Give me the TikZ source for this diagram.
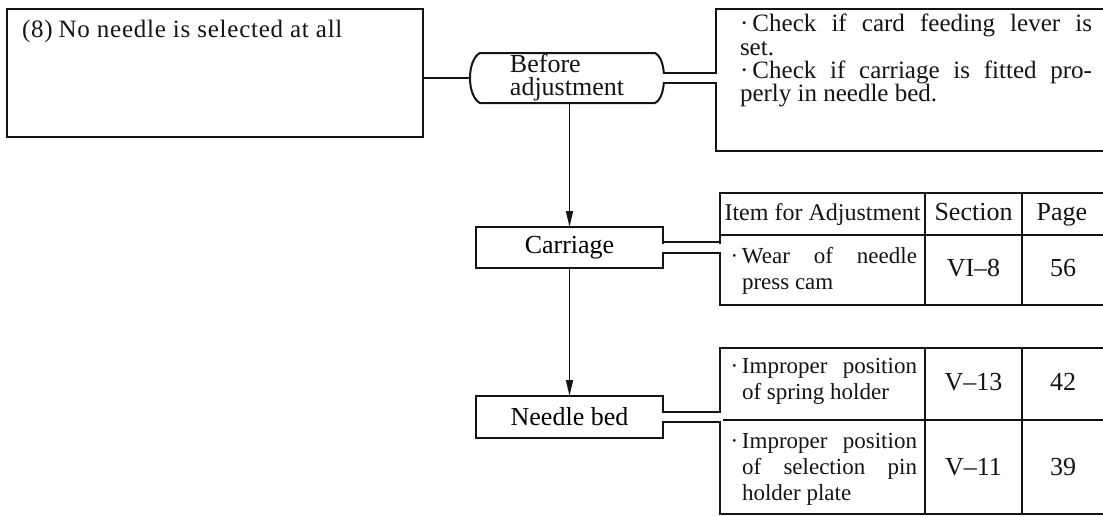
\documentclass[tikz,border=0pt]{standalone}
\usepackage{fontspec}
\setmainfont{Liberation Serif}
\usepackage{xcolor}
\usetikzlibrary{arrows.meta,calc}
\definecolor{mnink}{HTML}{141414}
\tikzset{
  panel/.style={draw=mnink,line width=1pt,inner sep=0pt,outer sep=0pt},
  lab/.style={inner sep=0pt,outer sep=0pt,text=mnink},
  item/.style={lab,text width=87.5pt,align=justify,font=\fontsize{11.5}{13}\selectfont},
  num/.style={lab,font=\fontsize{13}{15}\selectfont,text height=9pt,text depth=2.5pt},
  ar/.style={-{Triangle[length=8pt,width=3.5pt]},draw=mnink,line width=0.8pt},
  lnk/.style={draw=mnink,line width=1pt},
}

\begin{document}
\begin{tikzpicture}[x=0.5pt,y=-0.5pt]
\useasboundingbox (0,0) rectangle (1103,516);
\clip (0,0) rectangle (1103,516);
% trouble box
\node[panel,minimum width=208pt,minimum height=64pt] (prob) at (215,73) {};
\node[lab,anchor=base west,font=\fontsize{12.5}{15}\selectfont\addfontfeatures{LetterSpace=3}] (probtxt) at (22,37) {(8)\hspace{3pt}No needle is selected at all};
% before adjustment
\node[lab,minimum width=97pt,minimum height=25pt,align=left,font=\fontsize{13}{11.5}\selectfont] (bef) at (567,78) {Before\\adjustment};
\draw[lnk] ($(bef.north west)+(10,0)$) -- ($(bef.north east)+(-9,0)$)
  .. controls +(6,3) and +(0,-12) .. (bef.east)
  .. controls +(0,12) and +(6,-3) .. ($(bef.south east)+(-9,0)$)
  -- ($(bef.south west)+(10,0)$)
  .. controls +(-6,-3) and +(0,12) .. (bef.west)
  .. controls +(0,-12) and +(-6,3) .. ($(bef.north west)+(10,0)$) -- cycle;
\node[panel,minimum width=195pt,minimum height=71pt] (chk) at (911,80) {};
\node[lab,anchor=north east,text width=176pt,align=justify,font=\fontsize{12.5}{11.7}\selectfont] (chktxt) at (1092,14)
 {\noindent·\,Check if card feeding lever is\linebreak set.\\·\,Check if carriage is fitted pro-\linebreak perly in needle bed.};
% parts
\node[panel,minimum width=93.5pt,minimum height=20.5pt,font=\fontsize{13}{15}\selectfont] (carr) at (569.5,247.5) {Carriage};
\node[panel,minimum width=93.5pt,minimum height=21pt,font=\fontsize{13}{15}\selectfont] (bed) at (569.5,417) {Needle bed};
% table for carriage
\node[panel,minimum width=193pt,minimum height=56pt] (tabA) at (913,249) {};
\draw[lnk] (tabA.west |- 0,235) -- (tabA.east |- 0,235);
\foreach \x in {925,1022} \draw[lnk] (\x,193) -- (\x,305);
\node[num,font=\fontsize{12}{14}\selectfont] (hItem) at (822.5,214) {Item for Adjustment};
\node[num] (hSec) at (973.5,214) {Section};
\node[num] (hPage) at (1062,214) {Page};
\node[item,anchor=west] (wear) at (742,271) {\noindent\llap{·\,}Wear of needle\linebreak press cam};
\node[num] (secA) at (973.5,270) {VI–8};
\node[num] (pgA) at (1063,270) {56};
% table for needle bed
\node[panel,minimum width=193pt,minimum height=83pt] (tabB) at (913,431) {};
\draw[lnk] (tabB.west |- 0,420) -- (tabB.east |- 0,420);
\foreach \x in {925,1022} \draw[lnk] (\x,348) -- (\x,514);
\node[item,anchor=west] (sprg) at (742,381) {\noindent\llap{·\,}Improper position\linebreak of spring holder};
\node[num] (secB1) at (973.5,384) {V–13};
\node[num] (pgB1) at (1063,384) {42};
\node[item,anchor=west] (selp) at (742,469) {\noindent\llap{·\,}Improper position\linebreak of selection pin\linebreak holder plate};
\node[num] (secB2) at (973.5,469) {V–11};
\node[num] (pgB2) at (1063,469) {39};
% links
\draw[lnk] (prob.east |- bef.west) -- (bef.west);
\draw[ar] (carr.north |- bef.south) -- (carr.north);
\draw[ar] (carr.south) -- (bed.north);
\foreach \a/\b in {bef/chk,carr/tabA,bed/tabB}{
  \coordinate (\a-in) at (\a.east -| \b.west);
  \fill[white] ($(\a.east)+(-3,-4)$) rectangle ($(\a-in)+(3,4)$);
  \draw[lnk] ([yshift=2.6pt]\a.east) -- ([yshift=2.6pt]\a-in);
  \draw[lnk] ([yshift=-2.6pt]\a.east) -- ([yshift=-2.6pt]\a-in);
}
\end{tikzpicture}
\end{document}
